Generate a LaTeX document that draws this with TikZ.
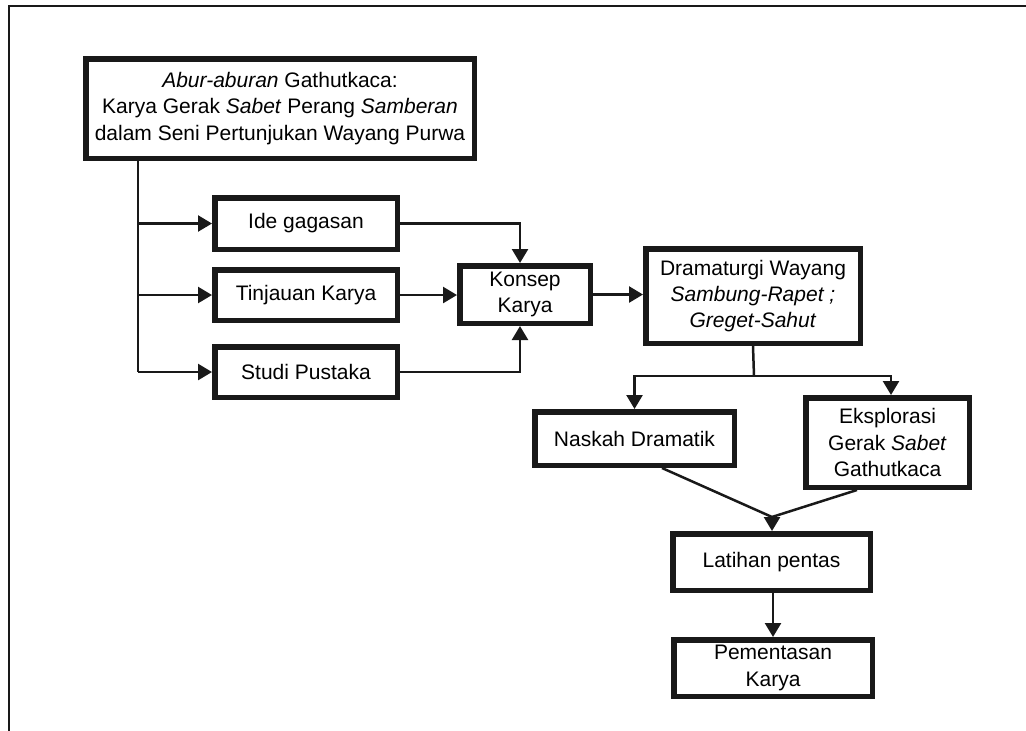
\documentclass[tikz,border=0pt]{standalone}
\usepackage{fontspec}
\setmainfont{Liberation Sans}
\usetikzlibrary{arrows.meta}
\begin{document}
\begin{tikzpicture}[x=1pt,y=-1pt,
  box/.style={draw=black!90, line width=5.5pt, align=center, inner sep=0pt,
    font=\fontsize{21}{26.2}\selectfont},
  conn/.style={draw=black!90, line width=2.5pt},
  arr/.style={conn, -{Triangle[width=16pt,length=14pt]}},
  frame/.style={draw=black!90, line width=2.5pt}
]
\useasboundingbox (0,0) rectangle (1026,731);
\draw[frame] (9,731) -- (9,6) -- (1026,6);

\node[box, minimum width=388.5pt, minimum height=99.5pt] (title) at (280,108.5)
  {\textit{Abur-aburan} Gathutkaca:\\ Karya Gerak \textit{Sabet} Perang \textit{Samberan}\\ dalam Seni Pertunjukan Wayang Purwa};
\node[box, minimum width=182.5pt, minimum height=51.5pt] (ide) at (306,223.5) {Ide gagasan};
\node[box, minimum width=182.5pt, minimum height=50.5pt] (tinj) at (306,295) {Tinjauan Karya};
\node[box, minimum width=182.5pt, minimum height=50.5pt] (studi) at (306,372) {Studi Pustaka};
\node[box, minimum width=130.5pt, minimum height=57.5pt] (konsep) at (525,294.5) {Konsep\\Karya};
\node[box, minimum width=214.5pt, minimum height=94.5pt] (dram) at (753,296)
  {Dramaturgi Wayang\\ \textit{Sambung-Rapet ;}\\ \textit{Greget-Sahut}};
\node[box, minimum width=199.5pt, minimum height=53.5pt] (naskah) at (634.5,438.5) {Naskah Dramatik};
\node[box, minimum width=163.5pt, minimum height=89.5pt] (eksp) at (887.5,442.5)
  {Eksplorasi\\ Gerak \textit{Sabet}\\ Gathutkaca};
\node[box, minimum width=197.5pt, minimum height=56.5pt] (latihan) at (771.5,562) {Latihan pentas};
\node[box, minimum width=198.5pt, minimum height=56.5pt] (pement) at (773,668) {Pementasan\\Karya};

\coordinate (trunk) at (138,160);
\draw[conn] (trunk) -- (138,372);
\draw[arr] (trunk |- ide.west) -- (ide.west);
\draw[arr] (trunk |- tinj.west) -- (tinj.west);
\draw[arr] (trunk |- studi.west) -- (studi.west);

\draw[arr] (ide.east) -| ([xshift=-5pt]konsep.north);
\draw[arr] (tinj.east) -- (tinj.east -| konsep.west);
\draw[arr] (studi.east) -| ([xshift=-5pt]konsep.south);
\draw[arr] (konsep.east) -- (konsep.east -| dram.west);

\coordinate (split) at (754,376);
\draw[conn] (dram.south) -- (split);
\draw[arr] (split) -| (naskah.north);
\draw[arr] (split) -| ([xshift=3.5pt]eksp.north);

\coordinate (meet) at (772,517);
\draw[conn] ([xshift=27.5pt]naskah.south) -- (meet);
\draw[conn] ([xshift=-30.5pt]eksp.south) -- (meet);
\draw[arr] (meet) -- (meet |- latihan.north);

\draw[arr] (latihan.south -| 773,0) -- (pement.north -| 773,0);
\end{tikzpicture}
\end{document}
